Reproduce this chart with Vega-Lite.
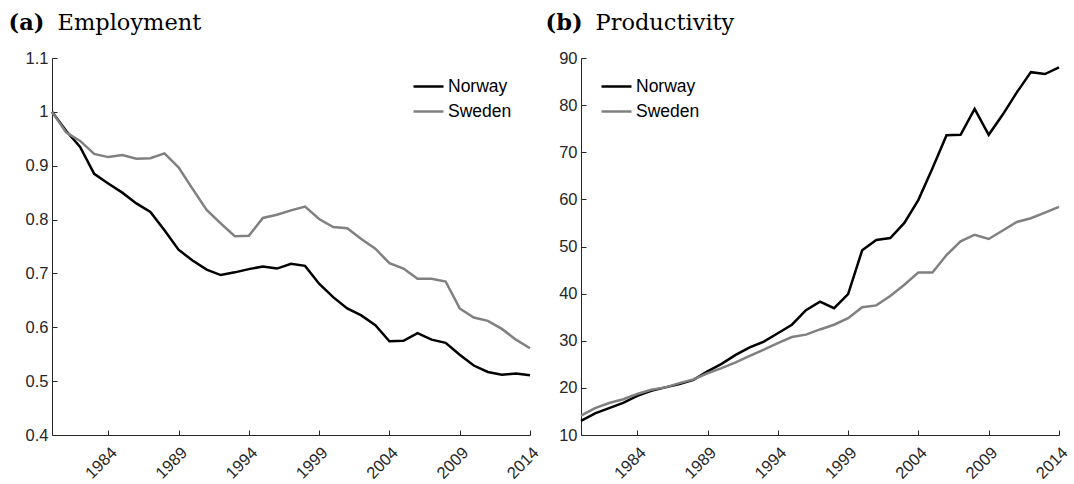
{
  "$schema": "https://vega.github.io/schema/vega-lite/v6.json",
  "padding": {"left": 8, "top": 11, "right": 5, "bottom": 0},
  "bounds": "flush",
  "spacing": 51,
  "config": {
    "view": {"stroke": null},
    "axis": {
      "grid": false,
      "domainColor": "#262626",
      "domainWidth": 1,
      "tickColor": "#262626",
      "tickWidth": 1,
      "tickSize": -5,
      "labelColor": "#262626",
      "labelFont": "Liberation Sans",
      "labelFontSize": 16.5,
      "labelFontWeight": "normal"
    }
  },
  "datasets": {
    "employment": [
      {"year": 1980, "country": "Norway", "value": 1.0},
      {"year": 1981, "country": "Norway", "value": 0.965},
      {"year": 1982, "country": "Norway", "value": 0.935},
      {"year": 1983, "country": "Norway", "value": 0.885},
      {"year": 1984, "country": "Norway", "value": 0.867},
      {"year": 1985, "country": "Norway", "value": 0.85},
      {"year": 1986, "country": "Norway", "value": 0.83},
      {"year": 1987, "country": "Norway", "value": 0.814},
      {"year": 1988, "country": "Norway", "value": 0.78},
      {"year": 1989, "country": "Norway", "value": 0.744},
      {"year": 1990, "country": "Norway", "value": 0.724},
      {"year": 1991, "country": "Norway", "value": 0.707},
      {"year": 1992, "country": "Norway", "value": 0.697},
      {"year": 1993, "country": "Norway", "value": 0.702},
      {"year": 1994, "country": "Norway", "value": 0.708},
      {"year": 1995, "country": "Norway", "value": 0.713},
      {"year": 1996, "country": "Norway", "value": 0.709},
      {"year": 1997, "country": "Norway", "value": 0.718},
      {"year": 1998, "country": "Norway", "value": 0.714},
      {"year": 1999, "country": "Norway", "value": 0.681},
      {"year": 2000, "country": "Norway", "value": 0.656},
      {"year": 2001, "country": "Norway", "value": 0.635},
      {"year": 2002, "country": "Norway", "value": 0.622},
      {"year": 2003, "country": "Norway", "value": 0.604},
      {"year": 2004, "country": "Norway", "value": 0.574},
      {"year": 2005, "country": "Norway", "value": 0.575},
      {"year": 2006, "country": "Norway", "value": 0.589},
      {"year": 2007, "country": "Norway", "value": 0.577},
      {"year": 2008, "country": "Norway", "value": 0.571},
      {"year": 2009, "country": "Norway", "value": 0.549},
      {"year": 2010, "country": "Norway", "value": 0.529},
      {"year": 2011, "country": "Norway", "value": 0.517},
      {"year": 2012, "country": "Norway", "value": 0.512},
      {"year": 2013, "country": "Norway", "value": 0.514},
      {"year": 2014, "country": "Norway", "value": 0.511},
      {"year": 1980, "country": "Sweden", "value": 1.0},
      {"year": 1981, "country": "Sweden", "value": 0.962},
      {"year": 1982, "country": "Sweden", "value": 0.946},
      {"year": 1983, "country": "Sweden", "value": 0.922},
      {"year": 1984, "country": "Sweden", "value": 0.916},
      {"year": 1985, "country": "Sweden", "value": 0.92},
      {"year": 1986, "country": "Sweden", "value": 0.913},
      {"year": 1987, "country": "Sweden", "value": 0.914},
      {"year": 1988, "country": "Sweden", "value": 0.923},
      {"year": 1989, "country": "Sweden", "value": 0.897},
      {"year": 1990, "country": "Sweden", "value": 0.857},
      {"year": 1991, "country": "Sweden", "value": 0.818},
      {"year": 1992, "country": "Sweden", "value": 0.793},
      {"year": 1993, "country": "Sweden", "value": 0.769},
      {"year": 1994, "country": "Sweden", "value": 0.77},
      {"year": 1995, "country": "Sweden", "value": 0.803},
      {"year": 1996, "country": "Sweden", "value": 0.809},
      {"year": 1997, "country": "Sweden", "value": 0.817},
      {"year": 1998, "country": "Sweden", "value": 0.824},
      {"year": 1999, "country": "Sweden", "value": 0.801},
      {"year": 2000, "country": "Sweden", "value": 0.786},
      {"year": 2001, "country": "Sweden", "value": 0.784},
      {"year": 2002, "country": "Sweden", "value": 0.764},
      {"year": 2003, "country": "Sweden", "value": 0.746},
      {"year": 2004, "country": "Sweden", "value": 0.719},
      {"year": 2005, "country": "Sweden", "value": 0.709},
      {"year": 2006, "country": "Sweden", "value": 0.69},
      {"year": 2007, "country": "Sweden", "value": 0.69},
      {"year": 2008, "country": "Sweden", "value": 0.685},
      {"year": 2009, "country": "Sweden", "value": 0.635},
      {"year": 2010, "country": "Sweden", "value": 0.618},
      {"year": 2011, "country": "Sweden", "value": 0.612},
      {"year": 2012, "country": "Sweden", "value": 0.597},
      {"year": 2013, "country": "Sweden", "value": 0.577},
      {"year": 2014, "country": "Sweden", "value": 0.561}
    ],
    "productivity": [
      {"year": 1980, "country": "Norway", "value": 13.0},
      {"year": 1981, "country": "Norway", "value": 14.6},
      {"year": 1982, "country": "Norway", "value": 15.7},
      {"year": 1983, "country": "Norway", "value": 16.8},
      {"year": 1984, "country": "Norway", "value": 18.3},
      {"year": 1985, "country": "Norway", "value": 19.4},
      {"year": 1986, "country": "Norway", "value": 20.1},
      {"year": 1987, "country": "Norway", "value": 20.8},
      {"year": 1988, "country": "Norway", "value": 21.7},
      {"year": 1989, "country": "Norway", "value": 23.5},
      {"year": 1990, "country": "Norway", "value": 25.1},
      {"year": 1991, "country": "Norway", "value": 27.0},
      {"year": 1992, "country": "Norway", "value": 28.6},
      {"year": 1993, "country": "Norway", "value": 29.8},
      {"year": 1994, "country": "Norway", "value": 31.6},
      {"year": 1995, "country": "Norway", "value": 33.4},
      {"year": 1996, "country": "Norway", "value": 36.5},
      {"year": 1997, "country": "Norway", "value": 38.3},
      {"year": 1998, "country": "Norway", "value": 36.9},
      {"year": 1999, "country": "Norway", "value": 39.9},
      {"year": 2000, "country": "Norway", "value": 49.2},
      {"year": 2001, "country": "Norway", "value": 51.4},
      {"year": 2002, "country": "Norway", "value": 51.8},
      {"year": 2003, "country": "Norway", "value": 55.0},
      {"year": 2004, "country": "Norway", "value": 59.9},
      {"year": 2005, "country": "Norway", "value": 66.6},
      {"year": 2006, "country": "Norway", "value": 73.6},
      {"year": 2007, "country": "Norway", "value": 73.7},
      {"year": 2008, "country": "Norway", "value": 79.2},
      {"year": 2009, "country": "Norway", "value": 73.7},
      {"year": 2010, "country": "Norway", "value": 78.0},
      {"year": 2011, "country": "Norway", "value": 82.7},
      {"year": 2012, "country": "Norway", "value": 87.0},
      {"year": 2013, "country": "Norway", "value": 86.6},
      {"year": 2014, "country": "Norway", "value": 88.0},
      {"year": 1980, "country": "Sweden", "value": 14.1},
      {"year": 1981, "country": "Sweden", "value": 15.7},
      {"year": 1982, "country": "Sweden", "value": 16.8},
      {"year": 1983, "country": "Sweden", "value": 17.6},
      {"year": 1984, "country": "Sweden", "value": 18.7},
      {"year": 1985, "country": "Sweden", "value": 19.6},
      {"year": 1986, "country": "Sweden", "value": 20.1},
      {"year": 1987, "country": "Sweden", "value": 21.0},
      {"year": 1988, "country": "Sweden", "value": 21.8},
      {"year": 1989, "country": "Sweden", "value": 23.1},
      {"year": 1990, "country": "Sweden", "value": 24.2},
      {"year": 1991, "country": "Sweden", "value": 25.4},
      {"year": 1992, "country": "Sweden", "value": 26.8},
      {"year": 1993, "country": "Sweden", "value": 28.1},
      {"year": 1994, "country": "Sweden", "value": 29.5},
      {"year": 1995, "country": "Sweden", "value": 30.8},
      {"year": 1996, "country": "Sweden", "value": 31.3},
      {"year": 1997, "country": "Sweden", "value": 32.4},
      {"year": 1998, "country": "Sweden", "value": 33.4},
      {"year": 1999, "country": "Sweden", "value": 34.8},
      {"year": 2000, "country": "Sweden", "value": 37.1},
      {"year": 2001, "country": "Sweden", "value": 37.5},
      {"year": 2002, "country": "Sweden", "value": 39.5},
      {"year": 2003, "country": "Sweden", "value": 41.9},
      {"year": 2004, "country": "Sweden", "value": 44.5},
      {"year": 2005, "country": "Sweden", "value": 44.5},
      {"year": 2006, "country": "Sweden", "value": 48.2},
      {"year": 2007, "country": "Sweden", "value": 51.1},
      {"year": 2008, "country": "Sweden", "value": 52.5},
      {"year": 2009, "country": "Sweden", "value": 51.6},
      {"year": 2010, "country": "Sweden", "value": 53.4},
      {"year": 2011, "country": "Sweden", "value": 55.2},
      {"year": 2012, "country": "Sweden", "value": 56.0},
      {"year": 2013, "country": "Sweden", "value": 57.2},
      {"year": 2014, "country": "Sweden", "value": 58.4}
    ]
  },
  "resolve": {"scale": {"color": "independent"}, "legend": {"color": "independent"}},
  "hconcat": [
    {
      "width": 478,
      "height": 377,
      "data": {"name": "employment"},
      "encoding": {
        "y": {
          "field": "value", "type": "quantitative",
          "scale": {"domain": [0.4, 1.1], "nice": false, "zero": false},
          "axis": {
            "values": [0.4, 0.5, 0.6, 0.7, 0.8, 0.9, 1.0, 1.1],
            "format": "~g",
            "labelPadding": 9,
            "title": "(a)",
            "titleAngle": 0,
            "titleX": -44,
            "titleY": -29,
            "titleAlign": "left",
            "titleBaseline": "alphabetic",
            "titleFont": "DejaVu Serif",
            "titleFontSize": 22.5,
            "titleFontWeight": "bold",
            "titleColor": "#000000"
          }
        },
        "color": {
          "field": "country", "type": "nominal",
          "scale": {"domain": ["Norway", "Sweden"], "range": ["#000000", "#808080"]},
          "legend": {
            "orient": "none", "legendX": 360, "legendY": 12,
            "title": null, "symbolType": "stroke", "symbolSize": 900,
            "symbolStrokeWidth": 2.5, "labelFont": "Liberation Sans",
            "labelFontSize": 17.5, "labelColor": "#000000",
            "rowPadding": -7, "labelOffset": 3
          }
        }
      },
      "layer": [
        {
          "transform": [{"filter": "datum.country === 'Norway'"}],
          "mark": {"type": "line", "strokeWidth": 2.5},
          "encoding": {
            "x": {
              "field": "year", "type": "quantitative",
              "scale": {"domain": [1980, 2014], "nice": false, "zero": false},
              "axis": {
                "values": [1984, 1989, 1994, 1999, 2004, 2009, 2014],
                "format": "d", "labelAngle": -45, "labelPadding": 14, "title": null
              }
            }
          }
        },
        {
          "transform": [{"filter": "datum.country === 'Sweden'"}],
          "mark": {"type": "line", "strokeWidth": 2.5},
          "encoding": {
            "x": {
              "field": "year", "type": "quantitative",
              "scale": {"domain": [1980, 2014], "nice": false, "zero": false},
              "axis": {
                "orient": "top", "domain": false, "ticks": false, "labels": false,
                "title": "Employment", "titleX": 5, "titleY": -29,
                "titleAlign": "left", "titleBaseline": "alphabetic",
                "titleFont": "DejaVu Serif", "titleFontSize": 22.5,
                "titleFontWeight": "normal", "titleColor": "#000000"
              }
            }
          }
        }
      ],
      "resolve": {"axis": {"x": "independent"}}
    },
    {
      "width": 478,
      "height": 377,
      "data": {"name": "productivity"},
      "encoding": {
        "y": {
          "field": "value", "type": "quantitative",
          "scale": {"domain": [10, 90], "nice": false, "zero": false},
          "axis": {
            "values": [10, 20, 30, 40, 50, 60, 70, 80, 90],
            "format": "d",
            "labelPadding": 9,
            "title": "(b)",
            "titleAngle": 0,
            "titleX": -36,
            "titleY": -29,
            "titleAlign": "left",
            "titleBaseline": "alphabetic",
            "titleFont": "DejaVu Serif",
            "titleFontSize": 22.5,
            "titleFontWeight": "bold",
            "titleColor": "#000000"
          }
        },
        "color": {
          "field": "country", "type": "nominal",
          "scale": {"domain": ["Norway", "Sweden"], "range": ["#000000", "#808080"]},
          "legend": {
            "orient": "none", "legendX": 19, "legendY": 12,
            "title": null, "symbolType": "stroke", "symbolSize": 900,
            "symbolStrokeWidth": 2.5, "labelFont": "Liberation Sans",
            "labelFontSize": 17.5, "labelColor": "#000000",
            "rowPadding": -7, "labelOffset": 3
          }
        }
      },
      "layer": [
        {
          "transform": [{"filter": "datum.country === 'Norway'"}],
          "mark": {"type": "line", "strokeWidth": 2.5},
          "encoding": {
            "x": {
              "field": "year", "type": "quantitative",
              "scale": {"domain": [1980, 2014], "nice": false, "zero": false},
              "axis": {
                "values": [1984, 1989, 1994, 1999, 2004, 2009, 2014],
                "format": "d", "labelAngle": -45, "labelPadding": 14, "title": null
              }
            }
          }
        },
        {
          "transform": [{"filter": "datum.country === 'Sweden'"}],
          "mark": {"type": "line", "strokeWidth": 2.5},
          "encoding": {
            "x": {
              "field": "year", "type": "quantitative",
              "scale": {"domain": [1980, 2014], "nice": false, "zero": false},
              "axis": {
                "orient": "top", "domain": false, "ticks": false, "labels": false,
                "title": "Productivity", "titleX": 14, "titleY": -29,
                "titleAlign": "left", "titleBaseline": "alphabetic",
                "titleFont": "DejaVu Serif", "titleFontSize": 22.5,
                "titleFontWeight": "normal", "titleColor": "#000000"
              }
            }
          }
        }
      ],
      "resolve": {"axis": {"x": "independent"}}
    }
  ]
}
